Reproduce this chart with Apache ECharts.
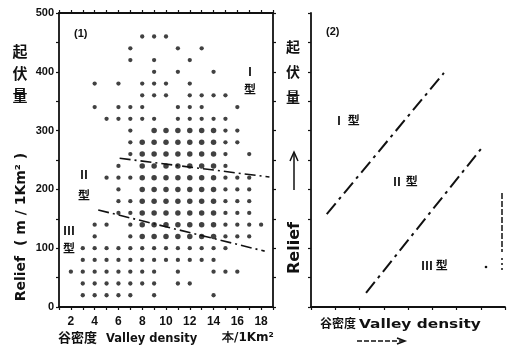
<!DOCTYPE html>
<html><head><meta charset="utf-8">
<script src="https://cdn.jsdelivr.net/npm/echarts@6/dist/echarts.min.js"></script>
<style>html,body{margin:0;padding:0;background:#fff}#c{width:507px;height:350px}</style>
</head><body><div id="c"></div>
<script>
// ---- data ----
const reliefLevels = [460,440,420,400,380,360,340,320,300,280,260,240,220,200,180,160,140,120,100,80,60,40,20];
const densitiesAtLevel = [
  [8,9,10],
  [7,11,13],
  [7,9,12],
  [9,11,14],
  [4,6,8,9,10,12],
  [8,9,10,12,13,14,15],
  [4,6,7,8,11,12,13,16],
  [5,6,7,8,9,11,12,13,14,15],
  [7,9,10,11,12,13,14,15,16],
  [7,8,9,10,11,12,13,14,15,16],
  [7,8,9,10,11,12,13,14,15,17],
  [6,8,9,10,11,12,13,14,15],
  [5,6,7,8,9,10,11,12,13,14,15,16,17],
  [6,8,9,10,11,12,13,14,15,16,17],
  [6,7,8,9,10,11,12,13,14,15,16,17],
  [6,7,8,9,10,11,12,13,14,15,16,17],
  [4,5,7,8,9,10,11,12,13,14,15,16,17,18],
  [4,7,8,9,10,11,12,13,14,15,16,17],
  [3,4,5,6,7,8,9,10,11,12,13,14,15],
  [3,4,5,6,7,8,9,10,11,12,13,14],
  [2,3,4,5,6,7,8,9,11,14,15,16],
  [3,4,5,6,7,8,9,11,12],
  [3,4,5,6,7,9,14]
];
const xTickLabels = ['2','4','6','8','10','12','14','16','18'];
const yTickLabels = ['0','100','200','300','400','500'];
// boundary lines, panel (1)
const boundaryUpper1 = [[6.1,253],[18.7,221]];
const boundaryLower1 = [[4.3,165],[18.3,95]];
// schematic boundary lines, panel (2)
const boundaryUpper2 = [[0.65,158],[5.48,398]];
const boundaryLower2 = [[2.27,24],[7.09,273]];

// ---- build ----
const points = [];
reliefLevels.forEach((r,i)=>densitiesAtLevel[i].forEach(d=>points.push([d,r])));

const BOLD = 'bold';
const LAT = "'Liberation Sans', 'DejaVu Sans', sans-serif";
const DJV = "'DejaVu Sans', sans-serif";
const CJK = "'Noto Sans CJK JP', sans-serif";
const ink = '#111';
const dashDot = [11,4,2,4];

function axisBase(extra){
  return Object.assign({
    axisLine:{show:true,onZero:false,lineStyle:{color:ink,width:1.8}},
    axisTick:{show:true,length:3,lineStyle:{color:ink,width:1.2}},
    axisLabel:{show:false},
    splitLine:{show:false}
  },extra);
}

const chart = echarts.init(document.getElementById('c'),null,{renderer:'canvas'});
chart.setOption({
  animation:false,
  backgroundColor:'#fff',
  grid:[
    {left:59,top:13,width:214,height:294},
    {left:311,top:13,width:194,height:294}
  ],
  xAxis:[
    axisBase({gridIndex:0,type:'value',min:1,max:19,interval:1,position:'bottom',
      axisLabel:{show:true,margin:9,color:ink,fontSize:12,fontWeight:BOLD,fontFamily:LAT,
        formatter:v=>xTickLabels.includes(String(v))?String(v):''}}),
    axisBase({gridIndex:0,type:'value',min:1,max:19,interval:1,position:'top'}),
    axisBase({gridIndex:1,type:'value',min:0,max:8,interval:1,position:'bottom'})
  ],
  yAxis:[
    axisBase({gridIndex:0,type:'value',min:0,max:500,interval:50,position:'left',
      axisLabel:{show:true,margin:5,color:ink,fontSize:11,fontWeight:BOLD,fontFamily:LAT,
        formatter:v=>yTickLabels.includes(String(v))?String(v):''}}),
    axisBase({gridIndex:0,type:'value',min:0,max:500,interval:50,position:'right'}),
    axisBase({gridIndex:1,type:'value',min:0,max:500,interval:50,position:'left'})
  ],
  series:[
    {type:'scatter',xAxisIndex:0,yAxisIndex:0,data:points,symbol:'circle',
      symbolSize:p=>(p[0]>=8&&p[0]<=14&&p[1]>=120&&p[1]<=300)?5.5:4.3,
      itemStyle:{color:ink},silent:true},
    {type:'line',xAxisIndex:0,yAxisIndex:0,data:boundaryUpper1,symbol:'none',
      lineStyle:{color:ink,width:1.6,type:dashDot}},
    {type:'line',xAxisIndex:0,yAxisIndex:0,data:boundaryLower1,symbol:'none',
      lineStyle:{color:ink,width:1.6,type:dashDot}},
    {type:'line',xAxisIndex:2,yAxisIndex:2,data:boundaryUpper2,symbol:'none',
      lineStyle:{color:ink,width:2,type:[14,5,3,5]}},
    {type:'line',xAxisIndex:2,yAxisIndex:2,data:boundaryLower2,symbol:'none',
      lineStyle:{color:ink,width:2,type:[14,5,3,5]}}
  ],
  graphic:[
    {type:'text',left:74,top:28,style:{text:'(1)',font:'bold 11px '+LAT,fill:ink}},
    {type:'text',left:326,top:26,style:{text:'(2)',font:'bold 11px '+LAT,fill:ink}},
    // left y name
    {type:'text',x:20,y:40,style:{text:'起\n伏\n量',font:'bold 15px '+CJK,fill:ink,align:'center',lineHeight:22}},
    {type:'text',x:21,y:227,rotation:Math.PI/2,style:{text:'Relief  ( m / 1Km² )',font:'bold 14px '+DJV,fill:ink,align:'center',verticalAlign:'middle'}},
    // right y name
    {type:'text',x:293,y:34,style:{text:'起\n伏\n量',font:'bold 14px '+CJK,fill:ink,align:'center',lineHeight:25}},
    {type:'line',shape:{x1:294,y1:190,x2:294,y2:154},style:{stroke:ink,lineWidth:1.5}},
    {type:'polyline',shape:{points:[[290,161],[294,152],[298,161]]},style:{stroke:ink,lineWidth:1.5,fill:null}},
    {type:'text',x:295,y:248,rotation:Math.PI/2,style:{text:'Relief',font:'bold 16px '+DJV,fill:ink,align:'center',verticalAlign:'middle'}},
    // type labels panel (1)
    {type:'text',x:250,y:62,style:{text:'Ⅰ\n型',font:'bold 12px '+CJK,fill:ink,align:'center',lineHeight:18}},
    {type:'text',x:84,y:164,style:{text:'Ⅱ\n型',font:'bold 12px '+CJK,fill:ink,align:'center',lineHeight:21}},
    {type:'text',x:69,y:221,style:{text:'Ⅲ\n型',font:'bold 12px '+CJK,fill:ink,align:'center',lineHeight:18}},
    // type labels panel (2)
    {type:'text',left:333,top:114,style:{text:'Ⅰ 型',font:'bold 12px '+CJK,fill:ink}},
    {type:'text',left:391,top:175,style:{text:'Ⅱ 型',font:'bold 12px '+CJK,fill:ink}},
    {type:'text',left:421,top:259,style:{text:'Ⅲ 型',font:'bold 12px '+CJK,fill:ink}},
    // x names panel (1)
    {type:'text',left:58,top:331,style:{text:'谷密度',font:'bold 13px '+CJK,fill:ink}},
    {type:'text',left:106,top:333,style:{text:'Valley density',font:'bold 11.5px '+DJV,fill:ink}},
    {type:'text',left:222,top:332,style:{text:'本/1Km²',font:'bold 12px '+DJV,fill:ink}},
    // x names panel (2)
    {type:'text',left:320,top:317,style:{text:'谷密度',font:'bold 12px '+CJK,fill:ink}},
    {type:'text',x:359,y:319,scaleX:1.28,style:{text:'Valley density',font:'bold 12px '+DJV,fill:ink,verticalAlign:'top'}},
    {type:'line',shape:{x1:357,y1:341,x2:403,y2:341},style:{stroke:ink,lineWidth:1.5,lineDash:[5,2]}},
    {type:'polyline',shape:{points:[[397,338],[405,341],[397,344]]},style:{stroke:ink,lineWidth:1.5,fill:null}},
    // scan marks at right edge of panel (2)
    {type:'line',shape:{x1:502,y1:193,x2:502,y2:252},style:{stroke:ink,lineWidth:1.5,lineDash:[6,2]}},
    {type:'line',shape:{x1:502,y1:258,x2:502,y2:270},style:{stroke:ink,lineWidth:1.5,lineDash:[2,3]}},
    {type:'circle',shape:{cx:486,cy:267,r:1.3},style:{fill:ink}}
  ]
});
</script></body></html>
